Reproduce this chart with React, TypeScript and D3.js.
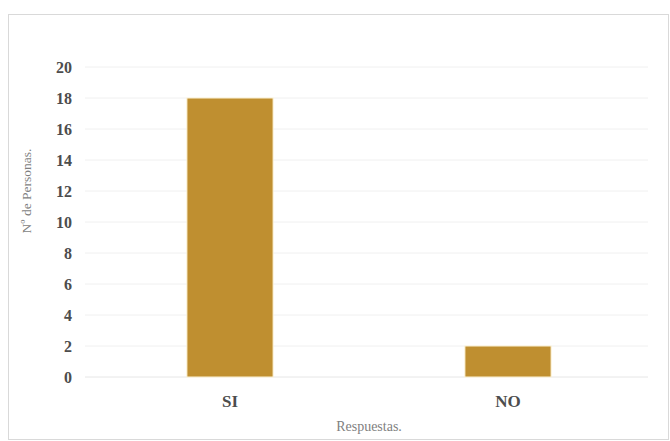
import React from "react";
import * as d3 from "d3";

const categories = ["SI", "NO"];
const values = [18, 2];
const yTicks = [0, 2, 4, 6, 8, 10, 12, 14, 16, 18, 20];

export default function App() {
  const W = 670, H = 441;
  const left = 91, right = 647, top = 67, bottom = 377;
  const x = d3.scaleBand<string>().domain(categories).range([left, right]).paddingInner(0.69).paddingOuter(0.345);
  const y = d3.scaleLinear().domain([0, 20]).range([bottom, top]);
  const serif = "'Liberation Serif', 'DejaVu Serif', serif";
  return (
    <svg width={W} height={H} style={{ position: "absolute", left: 0, top: 0, background: "#fff" }}>
      <rect x={8.5} y={14.5} width={660} height={425} fill="#fff" stroke="#d9d9d9" strokeWidth={1} />
      {yTicks.map((t) => (
        <g key={t}>
          <line x1={85} x2={648} y1={y(t)} y2={y(t)} stroke={t === 0 ? "#e6e6e6" : "#f0f0f0"} strokeWidth={1} />
          <text x={72} y={y(t)} dy="0.35em" textAnchor="end" fontFamily={serif} fontWeight="bold" fontSize={16} fill="#4d4d4d">
            {t}
          </text>
        </g>
      ))}
      {categories.map((c, i) => (
        <g key={c}>
          <rect x={x(c)} y={y(values[i])} width={x.bandwidth()} height={bottom - y(values[i])} fill="#BF8F30" stroke="#fdf3d6" strokeWidth={1} />
          <text x={(x(c) as number) + x.bandwidth() / 2} y={407} textAnchor="middle" fontFamily={serif} fontWeight="bold" fontSize={17} fill="#4d4d4d">
            {c}
          </text>
        </g>
      ))}
      <text x={369} y={431} textAnchor="middle" fontFamily={serif} fontSize={14} fill="#7f7f7f">Respuestas.</text>
      <text transform={`translate(31,191) rotate(-90)`} textAnchor="middle" fontFamily={serif} fontSize={13.5} fill="#7f7f7f">
        Nº de Personas.
      </text>
    </svg>
  );
}
